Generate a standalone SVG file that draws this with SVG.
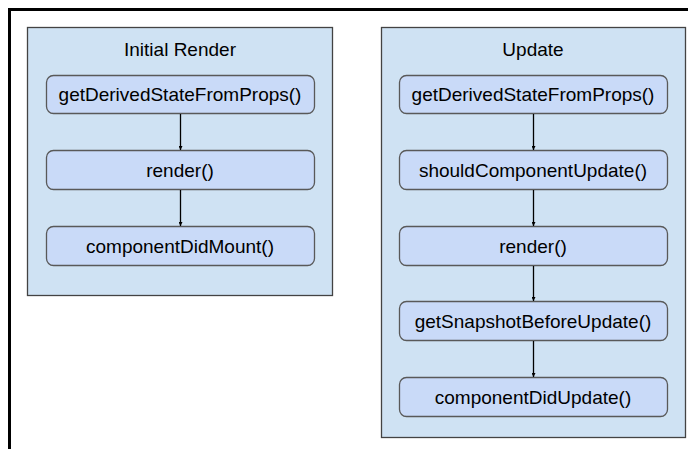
<svg xmlns="http://www.w3.org/2000/svg" width="688" height="449" viewBox="0 0 688 449">
<style>
.panel{fill:#cfe2f3;stroke:#434343;stroke-width:1.3}
.node{fill:#c9daf8;stroke:#595959;stroke-width:1.3}
text{font-family:"Liberation Sans",Arial,sans-serif;font-size:19px;fill:#000;text-anchor:middle}
.conn{stroke:#000;stroke-width:1.3;fill:none}
</style>
<defs>
<marker id="arr" viewBox="0 0 10 10" refX="10" refY="5" markerWidth="4" markerHeight="4" orient="auto" markerUnits="userSpaceOnUse">
<path d="M0,0 L10,5 L0,10 z" fill="#000"/>
</marker>
</defs>
<rect width="688" height="449" fill="#fff"/>
<path d="M9.5,449 V9.5 H688" fill="none" stroke="#000" stroke-width="3"/>
<g id="panel-initial">
<rect class="panel" x="27.5" y="27.5" width="305" height="268"/>
<text x="180" y="56">Initial Render</text>
</g>
<g id="panel-update">
<rect class="panel" x="381.5" y="27.5" width="304" height="410"/>
<text x="533" y="56">Update</text>
</g>
<g id="i-gdsfp"><rect class="node" x="46.5" y="75.5" width="268" height="38" rx="7"/><text x="180" y="101">getDerivedStateFromProps()</text></g>
<g id="i-render"><rect class="node" x="46.5" y="150.5" width="268" height="39" rx="7"/><text x="180" y="177">render()</text></g>
<g id="i-cdm"><rect class="node" x="46.5" y="226.5" width="268" height="39" rx="7"/><text x="180" y="253">componentDidMount()</text></g>
<g id="u-gdsfp"><rect class="node" x="399.5" y="75.5" width="268" height="38" rx="7"/><text x="533" y="101">getDerivedStateFromProps()</text></g>
<g id="u-scu"><rect class="node" x="399.5" y="150.5" width="268" height="39" rx="7"/><text x="533" y="177">shouldComponentUpdate()</text></g>
<g id="u-render"><rect class="node" x="399.5" y="226.5" width="268" height="39" rx="7"/><text x="533" y="253">render()</text></g>
<g id="u-gsbu"><rect class="node" x="399.5" y="301.5" width="268" height="39" rx="7"/><text x="533" y="328">getSnapshotBeforeUpdate()</text></g>
<g id="u-cdu"><rect class="node" x="399.5" y="377.5" width="268" height="39" rx="7"/><text x="533" y="404">componentDidUpdate()</text></g>
<g id="connectors">
<line class="conn" x1="180.5" y1="114" x2="180.5" y2="150" marker-end="url(#arr)"/>
<line class="conn" x1="180.5" y1="190" x2="180.5" y2="226" marker-end="url(#arr)"/>
<line class="conn" x1="533.5" y1="114" x2="533.5" y2="150" marker-end="url(#arr)"/>
<line class="conn" x1="533.5" y1="190" x2="533.5" y2="226" marker-end="url(#arr)"/>
<line class="conn" x1="533.5" y1="266" x2="533.5" y2="301" marker-end="url(#arr)"/>
<line class="conn" x1="533.5" y1="341" x2="533.5" y2="377" marker-end="url(#arr)"/>
</g>
</svg>
